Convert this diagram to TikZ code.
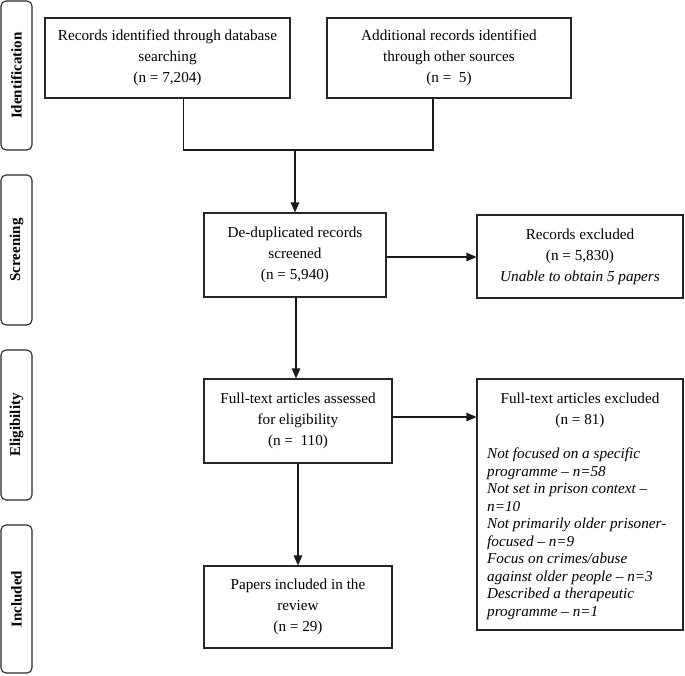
\documentclass[tikz,border=0pt]{standalone}
\usepackage{fontspec}
\setmainfont{Liberation Serif}
\usetikzlibrary{arrows.meta}
\tikzset{
  box/.style={draw=black!85, line width=1.1pt, align=center, inner sep=0pt,
    font=\fontsize{15.2}{21}\selectfont},
  side/.style={draw=black!85, line width=1.1pt, rounded corners=5pt, inner sep=0pt,
    minimum height=31pt, rotate=90, font=\fontsize{15}{18}\selectfont\bfseries},
  conn/.style={line width=1.1pt, draw=black!90},
  arr/.style={conn, -{Triangle[length=10pt,width=8.5pt]}},
  itl/.style={align=left, inner sep=0pt, anchor=north west,
    font=\fontsize{15.2}{17.5}\selectfont\itshape}
}
\begin{document}
\begin{tikzpicture}[x=1pt,y=-1pt]
\useasboundingbox (0,0) rectangle (685,675);
% side labels
\node[side, minimum width=149pt] (sid) at (16.5,75.5) {Identification};
\node[side, minimum width=150pt] (sscr) at (16.5,250) {Screening};
\node[side, minimum width=150pt] (selig) at (16.5,425) {Eligibility};
\node[side, minimum width=148pt] (sinc) at (16.5,599) {Included};
% boxes
\node[box, minimum width=245pt, minimum height=80pt] (tl) at (167.5,58)
  {Records identified through database\\searching\\(n = 7,204)};
\node[box, minimum width=244pt, minimum height=80pt] (tr) at (449,58)
  {Additional records identified\\through other sources\\(n =\ \ 5)};
\node[box, minimum width=182pt, minimum height=84pt] (scr) at (295,255)
  {De-duplicated records\\screened\\(n = 5,940)};
\node[box, minimum width=206pt, minimum height=83pt] (ex1) at (580,256.5)
  {Records excluded\\(n = 5,830)\\\textit{Unable to obtain 5 papers}};
\node[box, minimum width=188pt, minimum height=84pt] (full) at (298,421)
  {Full-text articles assessed\\for eligibility\\(n =\ \ 110)};
\node[box, minimum width=206pt, minimum height=251pt] (ex2) at (580,504.5) {};
\node[box, draw=none, anchor=north] (ex2t) at (580,392)
  {Full-text articles excluded\\(n = 81)};
\node[itl] (ex2l) at (487,448)
  {Not focused on a specific\\programme -- n=58\\Not set in prison context --\\n=10\\Not primarily older prisoner-\\focused -- n=9\\Focus on crimes/abuse\\against older people -- n=3\\Described a therapeutic\\programme -- n=1};
\node[box, minimum width=188pt, minimum height=82pt] (inc) at (298,607)
  {Papers included in the\\review\\(n = 29)};
% connectors
\coordinate (join) at (295,150);
\draw[conn] ([xshift=16pt]tl.south) |- (join) -| ([xshift=-16pt]tr.south);
\draw[arr] (join) -- (scr.north);
\draw[arr] ([yshift=-2pt]scr.east) -- ([yshift=-2pt]scr.east -| ex1.west);
\draw[arr] ([xshift=1pt]scr.south) -- ([xshift=1pt]scr.south |- full.north);
\draw[arr] ([yshift=4pt]full.east) -- ([yshift=4pt]full.east -| ex2.west);
\draw[arr] (full.south) -- (inc.north);
\end{tikzpicture}
\end{document}
